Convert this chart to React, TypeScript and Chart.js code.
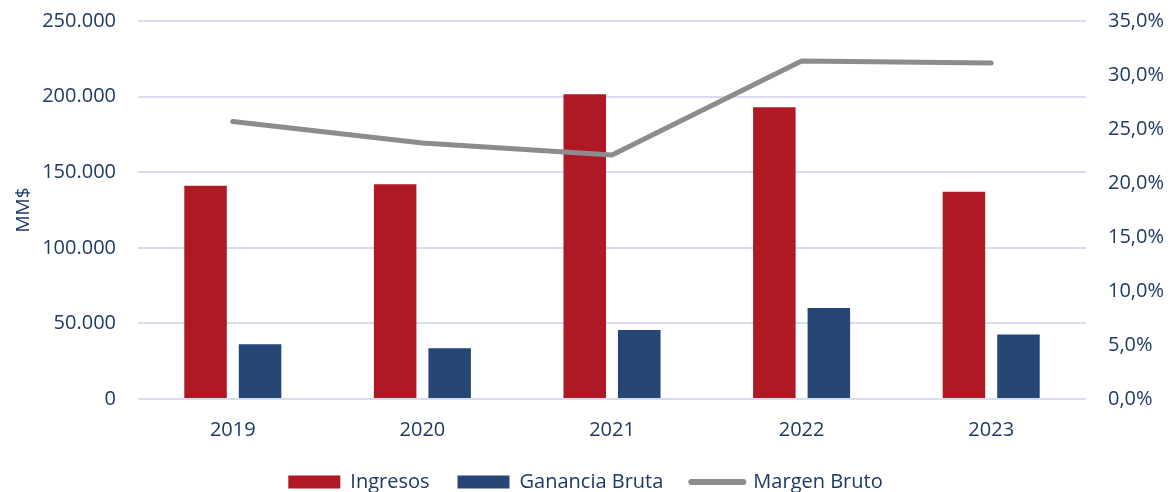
import React, { useEffect, useRef } from "react";
import { Chart, registerables } from "chart.js";

Chart.register(...registerables);

const years = ["2019", "2020", "2021", "2022", "2023"];
const ingresos = [141000, 142000, 201500, 193000, 137000];
const gananciaBruta = [36200, 33600, 45600, 60200, 42600];
const margenBruto = [25.7, 23.7, 22.6, 31.3, 31.1];

const NAVY = "#1F3864";
const RED = "#AE1924";
const BLUE = "#264675";
const GRAY = "#8C8C8C";
const GRID = "#D9DCEE";
const FONT = "'Open Sans', sans-serif";

function fmtThousands(v: number): string {
  const s = Math.round(v).toString();
  return s.replace(/\B(?=(\d{3})+(?!\d))/g, ".");
}

const legendHeightPlugin = {
  id: "legendHeightFix",
  beforeLayout(chart: any) {
    const lg = chart.legend;
    if (lg && !lg.__patched) {
      const orig = lg.fit;
      lg.fit = function (this: any) {
        orig.call(this);
        this.height = 48;
      };
      lg.__patched = true;
    }
  },
};

export default function App() {
  const ref = useRef<HTMLCanvasElement | null>(null);

  useEffect(() => {
    if (!ref.current) return;
    const chart = new Chart(ref.current, {
      type: "bar",
      plugins: [legendHeightPlugin],
      data: {
        labels: years,
        datasets: [
          {
            type: "bar",
            label: "Ingresos",
            data: ingresos,
            backgroundColor: RED,
            borderWidth: 0,
            yAxisID: "y",
            order: 1,
            categoryPercentage: 0.575,
            barPercentage: 0.78,
          },
          {
            type: "bar",
            label: "Ganancia Bruta",
            data: gananciaBruta,
            backgroundColor: BLUE,
            borderWidth: 0,
            yAxisID: "y",
            order: 1,
            categoryPercentage: 0.575,
            barPercentage: 0.78,
          },
          {
            type: "line",
            label: "Margen Bruto",
            data: margenBruto,
            borderColor: GRAY,
            backgroundColor: GRAY,
            borderWidth: 5,
            borderCapStyle: "round",
            borderJoinStyle: "round",
            pointRadius: 0,
            tension: 0,
            yAxisID: "y1",
            order: 0,
          } as any,
        ],
      },
      options: {
        responsive: false,
        animation: false,
        maintainAspectRatio: false,
        layout: { padding: { top: 21, bottom: 0, left: 0, right: 0 } },
        plugins: {
          tooltip: { enabled: false },
          legend: {
            position: "bottom",
            labels: {
              usePointStyle: true,
              pointStyleWidth: 52,
              boxHeight: 13,
              padding: 28,
              color: NAVY,
              font: { family: FONT, size: 20 },
              sort: (a: any, b: any) => a.datasetIndex - b.datasetIndex,
              generateLabels: (c: any) => {
                const items = Chart.defaults.plugins.legend.labels.generateLabels(c);
                return items.map((it: any) => {
                  const ds = c.data.datasets[it.datasetIndex];
                  if (ds.type === "line") {
                    return { ...it, pointStyle: "line", lineWidth: 6, strokeStyle: GRAY, lineCap: "round", fillStyle: GRAY };
                  }
                  return { ...it, pointStyle: "rect", lineWidth: 0, strokeStyle: ds.backgroundColor, fillStyle: ds.backgroundColor };
                });
              },
            },
          },
        },
        scales: {
          x: {
            grid: { display: false, drawTicks: false },
            border: { display: false },
            ticks: { color: NAVY, font: { family: FONT, size: 20 }, padding: 19 },
            afterFit: (s: any) => {
              s.height = 45;
            },
          },
          y: {
            position: "left",
            min: 0,
            max: 250000,
            grid: { color: GRID, lineWidth: 2, drawTicks: false },
            border: { display: false },
            ticks: {
              stepSize: 50000,
              color: NAVY,
              font: { family: FONT, size: 20 },
              padding: 22,
              callback: (v: any) => fmtThousands(Number(v)),
            },
            title: {
              display: true,
              text: "MM$",
              color: NAVY,
              font: { family: FONT, size: 19 },
              padding: { top: 12, bottom: 0 },
            },
            afterFit: (s: any) => {
              s.width = 138;
              s.paddingTop = 0;
              s.paddingBottom = 0;
            },
          },
          y1: {
            position: "right",
            min: 0,
            max: 35,
            grid: { display: false, drawTicks: false },
            border: { display: false },
            ticks: {
              stepSize: 5,
              color: NAVY,
              font: { family: FONT, size: 20 },
              padding: 22,
              callback: (v: any) => Number(v).toFixed(1).replace(".", ",") + "%",
            },
            afterFit: (s: any) => {
              s.width = 85;
              s.paddingTop = 0;
              s.paddingBottom = 0;
            },
          },
        },
      },
    });
    return () => chart.destroy();
  }, []);

  return (
    <div style={{ position: "absolute", left: 0, top: 0, width: 1171, height: 492, background: "#fff" }}>
      <canvas ref={ref} width={1171} height={492} style={{ width: 1171, height: 492 }} />
    </div>
  );
}
